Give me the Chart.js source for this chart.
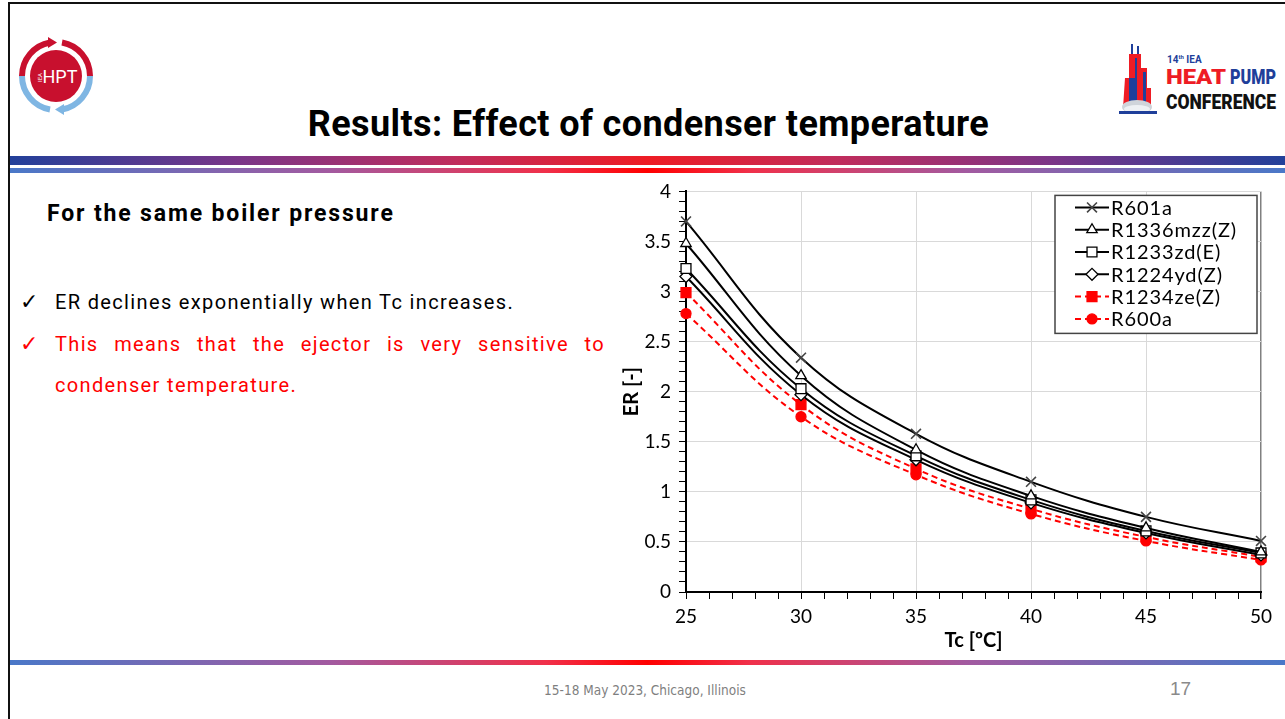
<!DOCTYPE html>
<html>
<head>
<meta charset="utf-8">
<script src="https://cdn.jsdelivr.net/npm/chart.js@4.4.1/dist/chart.umd.min.js"></script>
<style>
  html, body { margin: 0; padding: 0; background: #fff; }
  body { width: 1285px; height: 719px; position: relative; overflow: hidden; font-family: Roboto, "Open Sans", sans-serif; }
  .frame { position: absolute; left: 8px; top: 2px; width: 1400px; height: 800px; border-left: 2px solid #111; border-top: 2px solid #111; }
  .bar { position: absolute; left: 10px; right: 0; }
  .bar1 { top: 156px; height: 9px; background: linear-gradient(to right, #22409a 0%, #7a3588 18%, #c02c5c 35%, #ee1c24 50%, #c02c5c 65%, #7a3588 82%, #22409a 100%); }
  .bar2 { top: 168px; height: 5px; background: linear-gradient(to right, #4a78c8 0%, #a25aa0 25%, #f0304a 42%, #ff0000 50%, #f0304a 58%, #a25aa0 75%, #4a78c8 100%); }
  .bar3 { top: 660px; height: 5px; background: linear-gradient(to right, #4a78c8 0%, #a25aa0 25%, #f0304a 42%, #ff0000 50%, #f0304a 58%, #a25aa0 75%, #4a78c8 100%); }
  .title { position: absolute; left: 0; width: 1297px; top: 103px; text-align: center; font-size: 36px; font-weight: bold; color: #000; letter-spacing: 0.4px; }
  .sub { position: absolute; left: 47px; top: 200px; font-size: 23px; font-weight: bold; color: #000; letter-spacing: 1.85px; }
  .pt { position: absolute; left: 55px; width: 550px; font-size: 20px; color: #000; letter-spacing: 1.35px; }
  .pt .ck { position: absolute; left: -35px; letter-spacing: 0; font-size: 22px; top: -1px; }
  .red { color: #ff0000; }
  .footer { position: absolute; left: 0; width: 1290px; top: 682px; text-align: center; font-size: 13.5px; color: #7f7f7f; font-family: "Liberation Sans Narrow", "DejaVu Sans Condensed", sans-serif; }
  .page { position: absolute; left: 1170px; top: 678px; font-size: 19px; color: #8a8a8a; font-family: "Liberation Sans Narrow", sans-serif; }
  #wrap { position: absolute; left: 600px; top: 172px; width: 685px; height: 488px; }
</style>
</head>
<body>
<div class="frame"></div>

<svg style="position:absolute;left:15px;top:35px" width="82" height="82" viewBox="0 0 82 82">
  <path d="M7 41 A34 34 0 0 1 35 7.5" fill="none" stroke="#c8102e" stroke-width="6"/>
  <path d="M47 7.5 A34 34 0 0 1 75 41" fill="none" stroke="#c8102e" stroke-width="6"/>
  <polygon points="33,2 42,7.5 33,13" fill="#c8102e"/>
  <path d="M75 41 A34 34 0 0 1 47 74.5" fill="none" stroke="#7fb6e3" stroke-width="6"/>
  <path d="M35 74.5 A34 34 0 0 1 7 41" fill="none" stroke="#7fb6e3" stroke-width="6"/>
  <polygon points="49,69 40,74.5 49,80" fill="#7fb6e3"/>
  <circle cx="41" cy="41" r="26" fill="#c8102e"/>
  <text x="45" y="48" fill="#fff" font-family="Roboto, sans-serif" font-size="18" text-anchor="middle">HPT</text>
  <text x="0" y="0" fill="#fff" font-family="Roboto, sans-serif" font-size="6" transform="translate(27,47) rotate(-90)">IEA</text>
</svg>

<svg style="position:absolute;left:1115px;top:38px" width="170" height="78" viewBox="0 0 170 78">
  <rect x="16" y="6" width="2" height="10" fill="#1f3f9a"/>
  <rect x="22" y="8" width="2" height="10" fill="#1f3f9a"/>
  <polygon points="8,70 10,40 14,40 14,16 26,16 26,30 32,30 32,50 36,50 36,70" fill="#ee1c24"/>
  <polygon points="14,70 14,40 20,40 20,20 22,20 22,70" fill="#1f3f9a"/>
  <rect x="28" y="34" width="3" height="36" fill="#1f3f9a"/>
  <ellipse cx="22" cy="69" rx="15" ry="7" fill="#cfd4da"/>
  <ellipse cx="22" cy="71" rx="13" ry="4" fill="#eef1f4"/>
  <rect x="4" y="73" width="38" height="3" fill="#1f3f9a"/>
  <text x="52" y="25" font-family="Roboto, sans-serif" font-size="10" font-weight="bold" fill="#1f3f9a">14<tspan font-size="6" dy="-4">th</tspan><tspan dy="4"> IEA</tspan></text>
  <text x="51" y="46" font-family="Roboto, sans-serif" font-size="21" font-weight="900" fill="#ee1c24" textLength="60" lengthAdjust="spacingAndGlyphs">HEAT</text>
  <text x="115" y="46" font-family="Roboto, sans-serif" font-size="21" font-weight="900" fill="#1f3f9a" textLength="46" lengthAdjust="spacingAndGlyphs">PUMP</text>
  <text x="51" y="71" font-family="Roboto, sans-serif" font-size="21" font-weight="900" fill="#111" textLength="110" lengthAdjust="spacingAndGlyphs">CONFERENCE</text>
</svg>

<div class="title">Results: Effect of condenser temperature</div>
<div class="bar bar1"></div>
<div class="bar bar2"></div>

<div class="sub">For the same boiler pressure</div>
<div class="pt" style="top:290px"><span class="ck">&#10003;</span>ER declines exponentially when Tc increases.</div>
<div class="pt red" style="top:332px; text-align: justify; text-align-last: justify;"><span class="ck">&#10003;</span>This means that the ejector is very sensitive to</div>
<div class="pt red" style="top:373px">condenser temperature.</div>

<div id="wrap"><canvas id="chart"></canvas></div>

<div class="bar bar3"></div>
<div class="footer">15-18 May 2023, Chicago, Illinois</div>
<div class="page">17</div>

<script>
// condenser temperature [°C]
const TC = [25, 30, 35, 40, 45, 50];

// entrainment ratio per refrigerant
const ER_R601A = [3.70, 2.34, 1.58, 1.10, 0.75, 0.51];
const ER_R1336MZZ = [3.48, 2.16, 1.42, 0.96, 0.64, 0.40];
const ER_R1233ZD = [3.23, 2.03, 1.36, 0.92, 0.61, 0.39];
const ER_R1224YD = [3.15, 1.97, 1.32, 0.89, 0.59, 0.37];
const ER_R1234ZE = [2.99, 1.87, 1.23, 0.83, 0.55, 0.35];
const ER_R600A = [2.78, 1.75, 1.17, 0.78, 0.51, 0.32];

const LABELS = ['R601a', 'R1336mzz(Z)', 'R1233zd(E)', 'R1224yd(Z)', 'R1234ze(Z)', 'R600a'];

const FONT = 'Lato, "DejaVu Sans", sans-serif';

function pts(ys) {
    return TC.map((x, i) => ({ x: x, y: ys[i] }));
}

function series(label, ys, opts) {
    return Object.assign({
        label: label,
        data: pts(ys),
        borderColor: '#000',
        borderWidth: 2,
        tension: 0.4,
        fill: false,
        pointBorderColor: '#000',
        pointBackgroundColor: '#fff',
        pointBorderWidth: 1.3,
        pointRadius: 6,
    }, opts);
}

const datasets = [
    series(LABELS[0], ER_R601A, { pointStyle: 'crossRot', pointRadius: 7, pointBorderColor: '#444', pointBorderWidth: 1.6 }),
    series(LABELS[1], ER_R1336MZZ, { pointStyle: 'triangle', pointRadius: 6 }),
    series(LABELS[2], ER_R1233ZD, { pointStyle: 'rect', pointRadius: 7 }),
    series(LABELS[3], ER_R1224YD, { pointStyle: 'rectRot', pointRadius: 6 }),
    series(LABELS[4], ER_R1234ZE, { pointStyle: 'rect', pointRadius: 7, borderColor: '#ff0000', borderDash: [6, 4], pointBorderColor: '#ff0000', pointBackgroundColor: '#ff0000' }),
    series(LABELS[5], ER_R600A, { pointStyle: 'circle', pointRadius: 5, borderColor: '#ff0000', borderDash: [6, 4], pointBorderColor: '#ff0000', pointBackgroundColor: '#ff0000' }),
];

// legend box drawn inside the plot, top right
const legendBox = {
    id: 'legendBox',
    afterDatasetsDraw(chart) {
        const { ctx, chartArea } = chart;
        const w = 202, h = 138, rowH = 22.3;
        const x0 = chartArea.right - 206, y0 = chartArea.top + 4;
        ctx.save();
        ctx.fillStyle = '#fff';
        ctx.fillRect(x0, y0, w, h);
        ctx.strokeStyle = '#444';
        ctx.lineWidth = 1.5;
        ctx.strokeRect(x0, y0, w, h);
        chart.data.datasets.forEach((ds, i) => {
            const cy = y0 + 12 + i * rowH;
            ctx.strokeStyle = ds.borderColor;
            ctx.lineWidth = 2;
            ctx.setLineDash(ds.borderDash || []);
            ctx.beginPath();
            ctx.moveTo(x0 + 20, cy);
            ctx.lineTo(x0 + 54, cy);
            ctx.stroke();
            ctx.setLineDash([]);
            ctx.fillStyle = ds.pointBackgroundColor;
            ctx.strokeStyle = ds.pointBorderColor;
            ctx.lineWidth = ds.pointBorderWidth;
            Chart.helpers.drawPoint(ctx, {
                pointStyle: ds.pointStyle,
                radius: ds.pointRadius,
                borderWidth: ds.pointBorderWidth,
                rotation: 0,
            }, x0 + 37, cy);
            ctx.fillStyle = '#000';
            ctx.font = '20px ' + FONT;
            ctx.letterSpacing = '0.9px';
            ctx.textBaseline = 'middle';
            ctx.textAlign = 'left';
            ctx.fillText(ds.label, x0 + 56, cy + 1);
            ctx.letterSpacing = '0px';
        });
        ctx.restore();
    }
};

const isMajor = (v, step) => Math.abs(v / step - Math.round(v / step)) < 1e-6;
const fmt = v => String(Math.round(v * 10) / 10);

new Chart(document.getElementById('chart'), {
    type: 'line',
    data: { datasets },
    plugins: [legendBox],
    options: {
        responsive: true,
        maintainAspectRatio: false,
        animation: false,
        clip: false,
        layout: { padding: { top: 7, right: 24, left: 0, bottom: 0 } },
        plugins: { legend: { display: false }, tooltip: { enabled: false } },
        scales: {
            x: {
                type: 'linear',
                min: 25, max: 50,
                afterFit: s => { s.height = 68; },
                ticks: {
                    stepSize: 1,
                    autoSkip: false,
                    maxRotation: 0,
                    padding: 6,
                    color: '#000',
                    font: { size: 19, family: FONT },
                    callback: v => isMajor(v, 5) ? fmt(v) : '',
                },
                grid: {
                    color: c => !isMajor(c.tick.value, 5) ? 'rgba(0,0,0,0)' : (c.tick.value === 50 ? '#808080' : '#d9d9d9'),
                    lineWidth: c => c.tick.value === 50 ? 1.5 : 1,
                    tickColor: '#000',
                    tickLength: 7,
                },
                border: { color: '#000', width: 2 },
                title: { display: true, text: 'Tc [ºC]', color: '#000', font: { size: 20, weight: 'bold', family: FONT }, padding: { top: 0, bottom: 7 } },
            },
            y: {
                min: 0, max: 4,
                afterFit: s => { s.width = 86; },
                ticks: {
                    stepSize: 0.1,
                    autoSkip: false,
                    padding: 8,
                    color: '#000',
                    font: { size: 19, family: FONT },
                    callback: v => isMajor(v, 0.5) ? fmt(v) : '',
                },
                grid: {
                    color: c => isMajor(c.tick.value, 0.5) ? '#d9d9d9' : 'rgba(0,0,0,0)',
                    tickColor: '#000',
                    tickLength: 7,
                },
                border: { color: '#000', width: 2 },
                title: { display: true, text: 'ER [-]', color: '#000', font: { size: 20, weight: 'bold', family: FONT }, padding: { top: 20, bottom: 0 } },
            },
        },
    },
});
</script>
</body>
</html>
